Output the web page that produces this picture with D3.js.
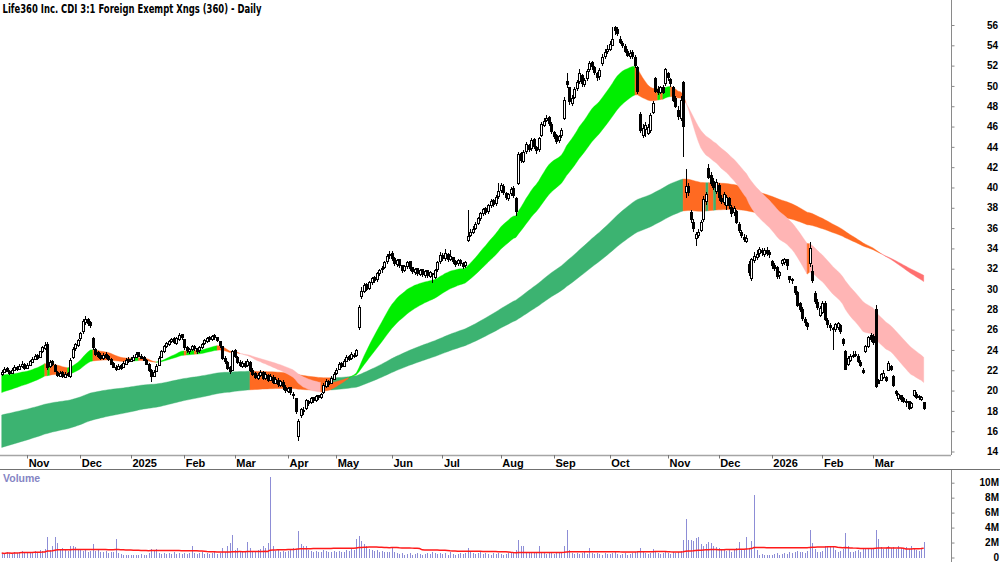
<!DOCTYPE html>
<html>
<head>
<meta charset="utf-8">
<script src="https://cdn.jsdelivr.net/npm/d3@7"></script>
<style>
  body { margin: 0; background: #fff; }
  svg { display: block; }
</style>
</head>
<body>
<svg id="chart"></svg>
<script>
// ---------------- data ----------------
const title = "Life360 Inc. CDI 3:1 Foreign Exempt Xngs (360) - Daily";
const firstDay = "2024-10-18";
const holidays = ["2024-12-25", "2024-12-26", "2025-01-01", "2025-01-27", "2025-04-18", "2025-04-21",
  "2025-04-25", "2025-06-09", "2025-12-25", "2025-12-26", "2026-01-01", "2026-01-26"];

// one line per month: Oct-24 ... Mar-26
const opens = [
  21.6, 21.8, 22.2, 21.9, 21.7, 22.0, 22.3, 22.1, 22.4, 22.6,
  22.2, 22.5, 22.8, 23.1, 23.5, 23.3, 23.8, 24.1, 24.5, 22.4, 22.9, 22.5, 21.8, 21.4, 21.8, 21.3, 21.7, 21.4, 23.3, 24.1, 24.4,
  25.1, 25.8, 26.7, 27.0, 26.7, 25.1, 24.0, 23.7, 23.5, 23.2, 23.6, 23.4, 23.1, 22.7, 22.3, 22.1, 22.5, 22.3, 22.6, 23.1,
  22.9, 23.0, 23.3, 23.7, 23.4, 23.3, 23.0, 22.6, 22.0, 21.4, 21.9, 22.5, 23.3, 23.8, 24.3, 24.5, 24.8, 25.1, 24.6, 25.0, 25.5,
  25.0, 24.2, 23.8, 24.0, 24.3, 24.1, 23.9, 24.2, 24.6, 24.8, 25.2, 25.0, 25.4, 25.2, 24.8, 24.3, 23.2, 22.8, 22.3, 22.0,
  23.9, 23.3, 22.8, 22.4, 22.7, 22.5, 22.8, 22.0, 21.7, 21.2, 21.5, 21.8, 21.2, 21.5, 21.0, 21.3, 20.7, 21.0, 20.5, 20.8, 20.3,
  19.9, 20.3, 19.6, 19.2, 15.5, 17.5, 17.9, 18.2, 18.9, 18.8, 19.3, 19.0, 19.5, 19.3, 19.8, 20.4, 20.9, 20.7, 21.1,
  21.7, 22.1, 22.7, 22.4, 22.9, 23.4, 23.2, 23.5, 23.5, 26.2, 29.3, 29.8, 30.4, 30.1, 30.6, 31.1, 30.9, 31.5, 31.9, 32.1, 32.7, 33.3,
  33.5, 33.0, 32.4, 32.9, 32.3, 31.8, 32.2, 32.7, 32.1, 31.6, 32.0, 31.4, 31.9, 31.3, 31.8, 31.2, 31.5, 31.1, 31.9, 32.7,
  33.3, 33.0, 33.4, 32.9, 33.1, 32.7, 32.5, 32.8, 32.5, 32.3, 34.8, 35.3, 35.6, 36.0, 36.5, 36.9, 37.4, 37.9, 37.6, 38.2, 38.7, 38.4, 39.1,
  39.7, 40.1, 39.4, 38.9, 39.4, 39.9, 38.9, 40.4, 43.3, 42.6, 43.5, 44.1, 43.8, 44.7, 43.9, 43.7, 45.1, 46.1, 46.6, 46.9, 46.2,
  45.4, 45.1, 44.6, 45.1, 46.8, 50.4, 49.8, 48.3, 48.9, 49.7, 50.4, 51.0, 50.1, 50.7, 51.6, 52.3, 51.8, 51.2, 50.9, 52.2, 52.9, 53.4,
  53.6, 54.0, 55.8, 55.6, 54.6, 54.2, 53.9, 53.4, 52.9, 53.3, 52.8, 51.8, 47.2, 45.1, 45.7, 45.3, 45.6, 47.4, 50.7, 49.6, 49.4, 49.8, 50.2,
  51.2, 50.6, 49.8, 48.8, 47.6, 46.8, 50.3, 39.5, 40.1, 37.5, 36.6, 35.0, 35.3, 35.8, 36.8, 38.6, 41.9, 41.2, 40.6, 39.6,
  40.2, 38.9, 38.5, 38.2, 38.9, 38.0, 37.5, 37.6, 36.4, 35.6, 35.1, 34.7, 32.4, 31.0, 32.8, 33.1, 33.5, 33.8, 33.4, 33.8, 33.6,
  32.7, 32.3, 32.1, 31.3, 32.5, 32.6, 32.9, 31.2, 30.9, 30.2, 29.7, 28.6, 28.0, 27.0, 26.6, 32.5, 31.7, 29.6, 28.7, 27.4,
  27.7, 28.6, 26.9, 26.4, 26.1, 26.0, 26.2, 26.4, 25.0, 23.8, 22.6, 23.0, 23.5, 23.6, 23.4, 22.8, 22.0, 23.8, 24.3, 25.4,
  25.3, 28.0, 21.0, 21.0, 21.3, 21.3, 22.0, 22.4, 21.4, 19.9, 19.2, 19.5, 19.2, 18.9, 18.9, 18.3, 19.5, 19.6, 19.3, 19.1, 18.8
];
const highs = [
  22.0, 22.3, 22.3, 22.0, 22.2, 22.5, 22.4, 22.6, 22.9, 22.7,
  22.7, 23.0, 23.3, 23.6, 23.6, 23.9, 24.4, 24.8, 24.8, 23.0, 23.0, 22.6, 21.9, 21.9, 21.9, 21.8, 21.8, 23.2, 24.3, 24.7, 25.1,
  25.8, 27.0, 27.3, 27.1, 26.9, 25.3, 24.2, 23.9, 23.7, 23.7, 23.8, 23.5, 23.2, 22.8, 22.5, 22.6, 22.6, 22.9, 23.2, 23.3,
  23.3, 23.5, 23.8, 23.8, 23.6, 23.4, 23.1, 22.7, 22.1, 22.0, 22.6, 23.4, 24.0, 24.5, 24.8, 25.0, 25.2, 25.3, 25.3, 25.7, 25.6,
  25.1, 24.4, 24.2, 24.5, 24.5, 24.2, 24.4, 24.7, 25.1, 25.3, 25.4, 25.5, 25.6, 25.3, 24.9, 24.4, 23.4, 22.9, 22.4, 24.0,
  24.1, 23.4, 23.0, 22.9, 22.9, 23.1, 22.9, 22.2, 21.8, 21.7, 22.0, 21.9, 21.8, 21.6, 21.6, 21.5, 21.3, 21.2, 21.0, 21.0, 20.5,
  20.4, 20.4, 19.9, 19.3, 17.2, 18.3, 18.4, 19.2, 19.1, 19.4, 19.4, 19.6, 19.6, 19.8, 20.7, 21.1, 21.0, 21.4, 21.8,
  22.2, 22.8, 22.8, 23.1, 23.5, 23.5, 23.8, 23.7, 24.1, 28.4, 30.2, 30.6, 30.6, 30.8, 31.2, 31.3, 31.7, 32.0, 32.3, 32.8, 33.4, 33.7,
  33.7, 33.2, 33.0, 33.0, 32.4, 32.4, 32.8, 32.8, 32.2, 32.1, 32.1, 32.0, 32.0, 31.9, 31.9, 31.8, 31.6, 32.0, 32.8, 33.6,
  33.5, 33.9, 33.5, 33.8, 33.2, 32.9, 33.0, 33.0, 32.7, 32.8, 37.8, 35.9, 36.2, 36.6, 37.1, 37.6, 38.0, 38.1, 38.4, 38.9, 38.9, 39.3, 40.4,
  40.4, 40.3, 39.6, 39.5, 40.0, 40.1, 39.1, 43.5, 43.5, 43.7, 44.5, 44.3, 44.9, 44.9, 44.1, 45.0, 46.4, 46.8, 47.1, 47.0, 46.4,
  45.6, 45.3, 45.2, 45.9, 48.9, 51.3, 49.9, 49.1, 49.9, 50.6, 51.7, 51.2, 50.8, 51.7, 52.5, 52.5, 52.0, 51.4, 51.8, 53.1, 53.6, 54.0,
  54.4, 55.8, 55.9, 55.8, 54.9, 54.4, 54.1, 53.6, 53.5, 53.5, 53.0, 52.0, 47.4, 46.3, 46.4, 46.3, 47.3, 48.5, 50.9, 50.0, 50.0, 50.1, 51.8,
  51.4, 50.8, 50.0, 49.0, 48.0, 49.0, 50.5, 41.8, 40.4, 37.8, 36.9, 35.6, 35.9, 36.8, 39.2, 39.6, 42.3, 41.5, 40.9, 40.8,
  40.4, 39.3, 39.6, 39.3, 39.1, 38.3, 38.2, 37.8, 36.6, 35.8, 35.4, 35.3, 32.8, 33.1, 33.6, 33.8, 34.1, 34.0, 34.0, 34.1, 33.8,
  32.9, 32.6, 32.3, 31.8, 33.0, 33.1, 33.0, 31.3, 31.1, 30.3, 29.8, 28.7, 28.2, 27.2, 26.8, 34.6, 32.4, 29.8, 29.0, 28.3,
  28.8, 28.8, 27.1, 26.7, 26.3, 26.7, 26.8, 26.6, 25.2, 24.0, 23.4, 23.6, 23.9, 23.9, 23.6, 23.0, 22.2, 24.5, 25.4, 25.7,
  25.6, 28.4, 21.1, 21.7, 22.0, 21.4, 22.9, 22.5, 21.5, 20.1, 19.8, 19.6, 19.4, 19.2, 19.0, 18.9, 20.1, 19.9, 19.6, 19.5, 18.9
];
const lows = [
  21.4, 21.7, 21.8, 21.5, 21.6, 21.9, 21.9, 22.0, 22.2, 22.0,
  22.1, 22.4, 22.7, 23.0, 23.0, 23.2, 23.7, 24.0, 22.0, 22.2, 22.4, 21.8, 21.3, 21.3, 21.2, 21.2, 21.3, 21.2, 23.1, 23.9, 24.3,
  24.9, 25.6, 26.5, 26.4, 26.2, 24.0, 23.4, 23.2, 23.0, 23.0, 23.1, 22.9, 22.5, 22.2, 21.9, 22.0, 22.0, 22.2, 22.5, 22.7,
  22.8, 22.9, 23.2, 23.3, 23.1, 22.9, 22.5, 21.8, 20.8, 21.3, 21.8, 22.4, 23.2, 23.7, 24.2, 24.4, 24.7, 24.6, 24.5, 24.9, 25.0,
  24.0, 23.7, 23.6, 23.9, 23.9, 23.6, 23.7, 24.1, 24.5, 24.7, 24.8, 24.9, 25.0, 24.8, 24.2, 23.0, 22.6, 22.0, 21.6, 21.9,
  23.2, 22.6, 22.3, 22.2, 22.2, 22.3, 21.8, 21.4, 21.1, 21.0, 21.3, 21.0, 21.0, 20.8, 20.9, 20.6, 20.6, 20.4, 20.4, 20.1, 19.8,
  19.8, 19.6, 19.2, 17.7, 15.0, 17.3, 17.6, 18.1, 18.5, 18.7, 18.8, 18.9, 19.1, 19.2, 19.7, 20.3, 20.4, 20.6, 21.0,
  21.5, 22.0, 22.2, 22.3, 22.8, 22.9, 23.0, 23.2, 23.3, 26.0, 29.0, 29.6, 29.8, 29.9, 30.4, 30.6, 30.7, 31.3, 31.6, 32.0, 32.5, 33.0,
  32.8, 32.3, 32.2, 32.1, 31.6, 31.7, 32.0, 31.8, 31.5, 31.4, 31.3, 31.3, 31.2, 31.1, 31.1, 31.1, 30.6, 31.0, 31.7, 32.5,
  32.8, 32.8, 32.7, 32.8, 32.5, 32.2, 32.3, 32.3, 32.0, 32.1, 34.6, 35.1, 35.4, 35.8, 36.3, 36.7, 37.2, 37.3, 37.4, 38.0, 38.1, 38.2, 38.9,
  39.5, 39.3, 38.8, 38.7, 39.2, 39.0, 37.2, 40.2, 42.4, 42.4, 43.3, 43.5, 43.6, 43.8, 43.3, 43.5, 45.0, 46.0, 46.4, 46.1, 45.3,
  44.8, 44.3, 44.4, 44.9, 46.6, 49.8, 48.1, 48.0, 48.7, 49.5, 50.2, 49.9, 49.9, 50.5, 51.4, 51.6, 51.1, 50.5, 50.6, 52.0, 52.7, 53.1,
  53.4, 53.9, 55.0, 54.9, 54.1, 53.7, 53.2, 52.8, 52.7, 52.7, 51.8, 49.2, 45.4, 44.9, 45.0, 45.2, 45.4, 47.2, 49.3, 49.1, 49.2, 49.2, 50.0,
  50.5, 49.9, 48.4, 47.8, 46.6, 46.5, 43.0, 39.0, 39.2, 36.5, 35.6, 34.2, 35.0, 35.6, 36.6, 38.3, 40.8, 40.1, 39.8, 39.4,
  38.7, 38.4, 38.3, 37.8, 37.9, 37.1, 37.2, 36.4, 35.5, 35.0, 34.6, 34.5, 31.3, 30.8, 32.6, 32.9, 33.2, 33.3, 33.2, 33.3, 33.1,
  32.0, 31.8, 31.0, 31.0, 32.3, 32.4, 31.9, 30.6, 30.5, 29.4, 28.2, 27.7, 26.9, 26.4, 26.0, 32.2, 30.6, 28.5, 27.9, 27.2,
  27.5, 26.9, 26.2, 25.9, 24.0, 25.8, 26.0, 25.6, 24.4, 22.0, 22.4, 22.8, 23.2, 23.3, 22.7, 22.3, 21.6, 23.7, 24.2, 24.8,
  24.5, 20.3, 20.6, 20.9, 21.1, 20.8, 21.9, 21.9, 20.4, 19.5, 19.0, 18.9, 18.8, 18.4, 18.1, 18.2, 19.4, 19.2, 19.1, 19.0, 18.1
];
const closes = [
  21.8, 22.1, 21.9, 21.7, 22.0, 22.3, 22.1, 22.4, 22.6, 22.2,
  22.5, 22.9, 23.1, 23.4, 23.2, 23.8, 24.2, 24.4, 22.3, 22.8, 22.6, 21.9, 21.5, 21.7, 21.4, 21.6, 21.5, 23.0, 24.0, 24.5, 24.9,
  25.6, 26.8, 27.0, 26.6, 26.4, 24.2, 23.6, 23.4, 23.2, 23.5, 23.3, 23.1, 22.6, 22.3, 22.1, 22.4, 22.2, 22.7, 23.0, 22.9,
  23.1, 23.3, 23.6, 23.4, 23.2, 23.0, 22.6, 22.0, 21.4, 21.8, 22.4, 23.2, 23.8, 24.3, 24.6, 24.8, 25.0, 24.7, 25.1, 25.4, 25.2,
  24.2, 23.9, 24.0, 24.3, 24.1, 23.8, 24.2, 24.5, 24.9, 25.1, 25.0, 25.3, 25.2, 24.9, 24.4, 23.2, 22.9, 22.2, 21.9, 23.8,
  23.4, 22.8, 22.5, 22.7, 22.4, 22.9, 22.0, 21.6, 21.3, 21.5, 21.8, 21.2, 21.6, 21.0, 21.4, 20.8, 21.1, 20.6, 20.9, 20.4, 20.0,
  20.2, 19.8, 19.5, 17.9, 17.0, 18.1, 18.0, 19.0, 18.7, 19.2, 19.0, 19.4, 19.3, 19.6, 20.5, 20.9, 20.6, 21.2, 21.6,
  22.0, 22.6, 22.4, 22.9, 23.3, 23.1, 23.6, 23.4, 23.9, 28.2, 29.8, 30.3, 30.0, 30.6, 31.0, 30.8, 31.5, 31.8, 32.0, 32.6, 33.2, 33.4,
  33.0, 32.5, 32.8, 32.3, 31.8, 32.2, 32.6, 32.0, 31.7, 31.9, 31.5, 31.8, 31.4, 31.7, 31.3, 31.6, 31.4, 31.8, 32.6, 33.3,
  33.0, 33.5, 32.9, 33.2, 32.7, 32.4, 32.8, 32.5, 32.2, 32.6, 35.2, 35.6, 35.9, 36.4, 36.9, 37.4, 37.8, 37.5, 38.2, 38.6, 38.3, 39.0, 39.6,
  40.2, 39.5, 39.0, 39.3, 39.8, 39.2, 37.6, 43.2, 42.7, 43.4, 44.2, 43.7, 44.6, 44.0, 43.6, 44.8, 46.2, 46.5, 46.8, 46.3, 45.5,
  45.0, 44.5, 45.0, 45.6, 48.6, 50.1, 48.5, 48.8, 49.6, 50.3, 51.2, 50.2, 50.5, 51.4, 52.2, 51.9, 51.3, 50.8, 51.5, 52.8, 53.3, 53.6,
  54.1, 54.6, 55.5, 55.2, 54.3, 54.0, 53.4, 53.0, 53.2, 52.9, 52.0, 49.5, 45.6, 45.8, 46.1, 45.9, 47.1, 48.3, 49.5, 49.4, 49.8, 49.4, 51.6,
  50.8, 50.2, 48.6, 48.0, 47.0, 48.6, 46.0, 40.1, 39.5, 36.8, 36.0, 35.4, 35.6, 36.6, 38.8, 39.3, 41.0, 40.4, 40.0, 40.5,
  39.0, 38.6, 39.3, 39.0, 38.2, 37.4, 37.9, 36.6, 35.8, 35.3, 34.9, 35.0, 31.6, 32.9, 33.2, 33.4, 33.9, 33.6, 33.8, 33.5, 33.4,
  32.3, 32.0, 31.2, 31.6, 32.8, 32.9, 32.3, 30.9, 30.8, 29.7, 28.4, 28.0, 27.1, 26.7, 26.3, 34.0, 30.8, 28.8, 28.2, 28.1,
  28.6, 27.0, 26.5, 26.2, 26.0, 26.5, 26.6, 25.8, 24.6, 22.1, 23.2, 23.4, 23.5, 23.6, 22.9, 22.5, 21.8, 24.3, 25.2, 25.0,
  24.7, 20.4, 20.7, 21.6, 21.7, 21.0, 22.7, 22.1, 20.5, 19.7, 19.6, 19.1, 18.9, 18.8, 18.2, 18.7, 20.0, 19.3, 19.4, 19.3, 18.2
];
// volume in millions of shares
const volumes = [
  0.6, 0.5, 0.7, 0.6, 0.5, 0.8, 0.6, 0.7, 0.9, 0.7,
  0.6, 0.8, 0.7, 0.9, 0.8, 1.0, 0.9, 1.2, 2.7, 1.0, 1.5, 2.8, 2.0, 1.0, 1.3, 1.1, 0.9, 1.5, 1.6, 1.4, 1.0,
  1.1, 0.9, 1.0, 0.8, 0.9, 1.8, 0.9, 1.2, 0.8, 0.7, 0.9, 0.6, 0.7, 0.8, 2.5, 0.6, 0.5, 0.4, 0.3, 0.3,
  0.3, 0.4, 0.3, 0.4, 0.5, 0.3, 0.4, 0.6, 1.1, 1.0, 1.1, 0.6, 0.5, 0.6, 0.5, 0.6, 0.5, 0.7, 0.5, 0.6, 0.5,
  0.6, 0.5, 0.6, 1.5, 0.6, 0.5, 0.6, 0.7, 0.5, 0.6, 0.5, 0.6, 0.7, 0.5, 0.6, 1.3, 0.8, 1.5, 1.9, 3.0,
  1.0, 1.3, 0.9, 0.8, 0.7, 2.1, 1.3, 0.9, 0.8, 1.0, 1.1, 1.5, 1.3, 1.9, 10.7, 1.6, 0.9, 1.0, 0.8, 0.9, 0.7,
  0.9, 1.0, 1.3, 1.2, 3.5, 1.8, 1.5, 1.6, 1.0, 0.9, 0.8, 0.9, 0.7, 0.8, 1.0, 0.9, 0.7, 0.8, 0.9,
  0.8, 0.9, 0.7, 0.8, 1.0, 0.9, 1.1, 1.0, 2.5, 2.9, 2.2, 1.8, 1.5, 1.1, 1.0, 0.9, 1.0, 0.8, 0.9, 0.7, 0.8, 0.8,
  1.3, 0.7, 0.6, 0.5, 0.6, 0.4, 0.5, 0.6, 0.4, 0.5, 0.6, 0.5, 0.4, 0.5, 0.6, 0.5, 0.8, 0.6, 0.5, 0.6,
  0.5, 0.6, 0.4, 0.7, 0.5, 0.4, 0.5, 0.6, 0.5, 0.6, 1.3, 0.8, 0.6, 0.5, 0.6, 0.7, 0.5, 0.6, 0.5, 0.4, 0.6, 0.5, 0.6,
  0.5, 0.4, 0.5, 0.6, 0.7, 0.6, 1.0, 2.3, 1.6, 1.5, 0.8, 0.6, 0.7, 0.6, 0.7, 1.5, 0.8, 0.6, 0.5, 0.7, 0.6,
  0.5, 0.6, 0.8, 0.7, 1.6, 3.7, 1.0, 0.6, 0.5, 0.6, 0.5, 0.6, 0.7, 0.5, 1.3, 0.6, 0.5, 0.6, 0.5, 0.4, 0.6, 0.5,
  0.5, 0.6, 0.7, 0.5, 0.4, 0.5, 0.6, 0.4, 0.5, 0.6, 0.7, 0.9, 1.3, 0.7, 0.6, 0.5, 0.6, 1.1, 0.9, 0.6, 0.5, 0.6, 0.7,
  0.6, 0.5, 0.7, 0.6, 0.8, 0.9, 2.4, 5.1, 2.3, 2.4, 2.2, 2.6, 2.7, 1.8, 1.5, 1.8, 2.1, 1.9, 1.6, 1.4,
  1.3, 1.0, 1.2, 0.9, 1.1, 0.8, 1.0, 1.3, 2.1, 1.1, 1.0, 2.7, 1.2, 2.2, 8.4, 1.0, 0.4, 0.5, 0.4, 0.3, 0.4,
  0.4, 0.5, 0.6, 0.4, 0.5, 0.6, 0.5, 0.7, 0.6, 0.8, 0.9, 0.7, 0.8, 0.6, 0.9, 3.7, 2.0, 1.1, 0.8, 0.7,
  0.9, 1.6, 1.6, 1.5, 1.6, 1.0, 0.8, 0.9, 1.2, 3.3, 1.5, 0.8, 0.7, 0.9, 1.0, 0.8, 1.2, 1.1, 1.3, 1.2,
  1.3, 3.7, 2.5, 1.4, 1.2, 1.3, 1.5, 1.3, 1.4, 1.2, 1.5, 1.3, 1.1, 1.4, 1.2, 1.5, 1.3, 1.0, 0.9, 1.1, 2.1
];
const priceTicks = [14, 16, 18, 20, 22, 24, 26, 28, 30, 32, 34, 36, 38, 40, 42, 44, 46, 48, 50, 52, 54, 56];
const volumeTicks = [0, 2, 4, 6, 8, 10];
// moving-average bands: EMA periods and the levels they start from at the first bar
const shortPeriods = [25, 46];
const shortStart = [21.5, 19.8];
const longPeriods = [150, 200];
const longStart = [17.6, 14.4];
const volumeAvgPeriod = 60;

class CandleChart {

  constructor(_config) {
    this.config = {
      parentElement: _config.parentElement,
      containerWidth: _config.containerWidth || 1000,
      containerHeight: _config.containerHeight || 562,
      axisX: 951,
      priceBottom: 455,
      volTop: 470
    };
    this.initVis();
  }

  initVis() {
    let vis = this;
    vis.n = closes.length;

    vis.svg = d3.select(vis.config.parentElement)
      .attr('width', vis.config.containerWidth)
      .attr('height', vis.config.containerHeight);

    vis.xScale = d3.scaleLinear().domain([0, vis.n - 1]).range([1.7, 923.7]);
    vis.yScale = d3.scaleLinear().domain([14, 56]).range([451.5, 25]);
    vis.vScale = d3.scaleLinear().domain([0, 10]).range([557.5, 482.7]);

    // trading days
    const parse = d3.timeParse('%Y-%m-%d');
    const fmt = d3.timeFormat('%Y-%m-%d');
    vis.dates = [];
    let d = parse(firstDay);
    while (vis.dates.length < vis.n) {
      const wd = d.getDay();
      if (wd !== 0 && wd !== 6 && !holidays.includes(fmt(d))) vis.dates.push(d);
      d = d3.timeDay.offset(d, 1);
    }

    vis.svg.append('defs').append('clipPath').attr('id', 'price-clip')
      .append('rect').attr('x', 0).attr('y', 0)
      .attr('width', vis.config.axisX).attr('height', vis.config.priceBottom);

    vis.chart = vis.svg.append('g').attr('clip-path', 'url(#price-clip)');
    vis.renderVis();
  }

  ema(values, period, start) {
    const k = 2 / (period + 1);
    let prev = start;
    return values.map((v, i) => {
      if (i > 0) prev = prev + k * (v - prev);
      return prev;
    });
  }

  drawBand(periods, start, colors) {
    let vis = this;
    const fast = vis.ema(closes, periods[0], start[0]);
    const slow = vis.ema(closes, periods[1], start[1]);
    // green: fast above slow and rising, red: below and falling, orange: anything in between
    const state = fast.map((f, i) => {
      const rising = i === 0 ? fast[1] >= fast[0] : f >= fast[i - 1];
      const above = f >= slow[i];
      if (above && rising) return 'up';
      if (!above && !rising) return 'down';
      return 'mixed';
    });
    const runs = [];
    for (let i = 1; i < vis.n; i++) {
      const last = runs[runs.length - 1];
      if (last && last.state === state[i]) last.to = i;
      else runs.push({state: state[i], from: i - 1, to: i});
    }
    const area = d3.area()
      .x(i => vis.xScale(i))
      .y0(i => vis.yScale(slow[i]))
      .y1(i => vis.yScale(fast[i]));
    vis.chart.append('g').selectAll('path')
      .data(runs)
      .join('path')
      .attr('d', r => area(d3.range(r.from, r.to + 1)))
      .attr('fill', r => colors[r.state])
      .attr('stroke', r => colors[r.state])
      .attr('stroke-width', 0.4);
  }

  renderVis() {
    let vis = this;
    const idx = d3.range(vis.n);
    const font = '"Liberation Sans", Arial, Helvetica, sans-serif';

    // bands
    vis.drawBand(longPeriods, longStart, {up: '#3cb371', mixed: '#ff6a22', down: '#ff7070'});
    vis.drawBand(shortPeriods, shortStart, {up: '#00ee00', mixed: '#ff6a22', down: '#ffb5b5'});

    // candles
    const candles = vis.chart.append('g').attr('shape-rendering', 'crispEdges');
    candles.selectAll('.wick')
      .data(idx)
      .join('line')
      .attr('class', 'wick')
      .attr('x1', i => Math.round(vis.xScale(i)) + 0.5)
      .attr('x2', i => Math.round(vis.xScale(i)) + 0.5)
      .attr('y1', i => vis.yScale(highs[i]))
      .attr('y2', i => vis.yScale(lows[i]))
      .attr('stroke', '#000')
      .attr('stroke-width', 1);
    candles.selectAll('.body')
      .data(idx)
      .join('rect')
      .attr('class', 'body')
      .attr('x', i => Math.round(vis.xScale(i)) - 0.5)
      .attr('width', 2)
      .attr('y', i => vis.yScale(Math.max(opens[i], closes[i])))
      .attr('height', i => Math.max(1, Math.abs(vis.yScale(opens[i]) - vis.yScale(closes[i]))))
      .attr('fill', i => closes[i] >= opens[i] ? '#fff' : '#000')
      .attr('stroke', '#000')
      .attr('stroke-width', 1);

    // price axis
    const ax = vis.config.axisX;
    vis.svg.append('line')
      .attr('x1', ax + 0.5).attr('x2', ax + 0.5).attr('y1', 0).attr('y2', vis.config.priceBottom)
      .attr('stroke', '#8a8a8a');
    const yAxis = vis.svg.append('g')
      .attr('transform', `translate(${ax + 0.5}, 0)`)
      .call(d3.axisRight(vis.yScale).tickValues(priceTicks).tickSize(3).tickSizeOuter(0));
    yAxis.select('.domain').remove();
    yAxis.selectAll('line').attr('stroke', '#8a8a8a');
    yAxis.selectAll('text')
      .attr('x', 46.5).attr('text-anchor', 'end')
      .style('font-family', font).style('font-weight', 'bold').style('font-size', '10px')
      .attr('fill', '#000');

    // date strip
    vis.svg.append('line')
      .attr('x1', 0).attr('x2', ax).attr('y1', 455.5).attr('y2', 455.5)
      .attr('stroke', '#a5a5a5').attr('stroke-width', 1.5);
    vis.svg.append('line')
      .attr('x1', 0).attr('x2', vis.config.containerWidth).attr('y1', 469.5).attr('y2', 469.5)
      .attr('stroke', '#707070').attr('stroke-width', 1);
    const monthStarts = idx.filter(i => i > 0 && vis.dates[i].getMonth() !== vis.dates[i - 1].getMonth());
    const dateAxis = vis.svg.append('g');
    dateAxis.selectAll('line')
      .data(monthStarts)
      .join('line')
      .attr('x1', i => Math.round(vis.xScale(i)) + 0.5)
      .attr('x2', i => Math.round(vis.xScale(i)) + 0.5)
      .attr('y1', 455).attr('y2', 458.5)
      .attr('stroke', '#777');
    dateAxis.selectAll('text')
      .data(monthStarts)
      .join('text')
      .attr('x', i => vis.xScale(i) + 1.6)
      .attr('y', 467)
      .style('font-family', font).style('font-weight', 'bold').style('font-size', '11px')
      .text(i => vis.dates[i].getMonth() === 0 ? d3.timeFormat('%Y')(vis.dates[i]) : d3.timeFormat('%b')(vis.dates[i]));

    // volume panel
    vis.svg.append('line')
      .attr('x1', ax + 0.5).attr('x2', ax + 0.5).attr('y1', vis.config.volTop).attr('y2', vis.config.containerHeight)
      .attr('stroke', '#8a8a8a');
    vis.svg.append('g').attr('shape-rendering', 'crispEdges')
      .selectAll('rect')
      .data(idx)
      .join('rect')
      .attr('x', i => Math.round(vis.xScale(i)))
      .attr('width', 1)
      .attr('y', i => vis.vScale(volumes[i]))
      .attr('height', i => vis.vScale(0) - vis.vScale(volumes[i]))
      .attr('fill', '#8d8dd6');
    const volAvg = idx.map(i => d3.mean(volumes.slice(Math.max(0, i - volumeAvgPeriod + 1), i + 1)));
    vis.svg.append('path')
      .datum(idx)
      .attr('d', d3.line().x(i => vis.xScale(i)).y(i => vis.vScale(volAvg[i])))
      .attr('fill', 'none')
      .attr('stroke', '#ff1a1a')
      .attr('stroke-width', 1.5);
    const vAxis = vis.svg.append('g')
      .attr('transform', `translate(${ax + 0.5}, 0)`)
      .call(d3.axisRight(vis.vScale).tickValues(volumeTicks).tickSize(3).tickSizeOuter(0)
        .tickFormat(v => v === 0 ? '0' : v + 'M'));
    vAxis.select('.domain').remove();
    vAxis.selectAll('line').attr('stroke', '#8a8a8a');
    vAxis.selectAll('text')
      .attr('x', 47.5).attr('text-anchor', 'end')
      .style('font-family', font).style('font-weight', 'bold').style('font-size', '10px')
      .attr('fill', '#000');
    vis.svg.append('text')
      .attr('x', 3).attr('y', 482)
      .style('font-family', font).style('font-weight', 'bold').style('font-size', '10.5px')
      .attr('fill', '#8585c4')
      .text('Volume');

    // title
    vis.svg.append('text')
      .attr('x', 2.5).attr('y', 12.7)
      .attr('textLength', 259).attr('lengthAdjust', 'spacingAndGlyphs')
      .style('font-family', '"Liberation Sans Narrow", "DejaVu Sans Condensed", "Liberation Sans", sans-serif')
      .style('font-weight', 'bold').style('font-size', '12.5px')
      .attr('fill', '#000')
      .text(title);
  }
}

new CandleChart({parentElement: '#chart'});
</script>
</body>
</html>
